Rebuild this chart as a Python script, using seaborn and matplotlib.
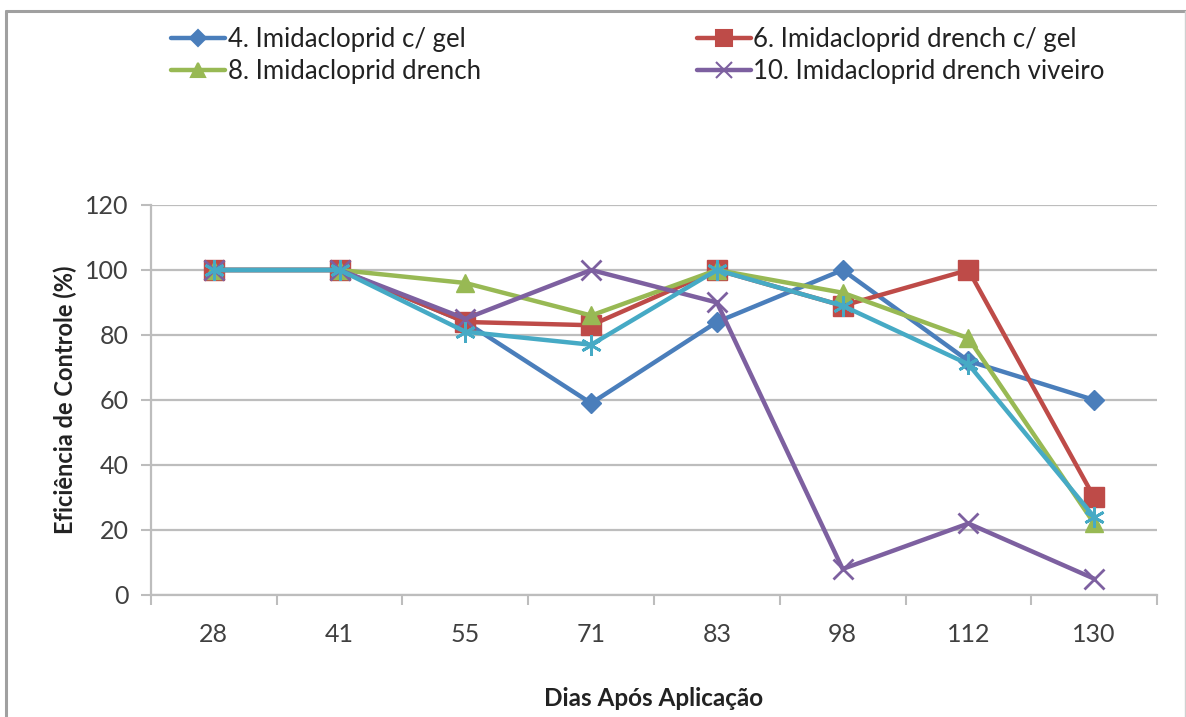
import matplotlib
matplotlib.use("Agg")
import matplotlib.pyplot as plt
from matplotlib.lines import Line2D
import seaborn as sns
import pandas as pd

# Days after application (categorical x axis)
dias = ["28", "41", "55", "71", "83", "98", "112", "130"]

# Control efficiency (%) per treatment
trat_4 = [100, 100, 84, 59, 84, 100, 72, 60]
trat_6 = [100, 100, 84, 83, 100, 89, 100, 30]
trat_8 = [100, 100, 96, 86, 100, 93, 79, 22]
trat_10 = [100, 100, 85, 100, 90, 8, 22, 5]
trat_extra = [100, 100, 81, 77, 100, 89, 71, 24]

nomes = ["4. Imidacloprid c/ gel", "6. Imidacloprid drench c/ gel",
         "8. Imidacloprid drench", "10. Imidacloprid drench viveiro", "_extra"]
series = [trat_4, trat_6, trat_8, trat_10, trat_extra]
cores = ["#4A7EBB", "#BE4B48", "#98B954", "#7D60A0", "#46AAC5"]
marcadores = ["D", "s", "^", "x", (6, 2, 0)]
tamanhos = [10, 14, 13, 14, 15]

sns.set_theme(style="white")
plt.rcParams["font.family"] = ["Lato", "DejaVu Sans"]

fig = plt.figure(figsize=(11.86, 7.17), dpi=100)
ax = fig.add_axes([0.1273, 0.1702, 0.8483, 0.5439])

pos = list(range(len(dias)))
for nome, vals, cor, mk, ms in zip(nomes, series, cores, marcadores, tamanhos):
    df = pd.DataFrame({"x": pos, "y": vals})
    sns.lineplot(data=df, x="x", y="y", ax=ax, color=cor, linewidth=3.2,
                 marker=mk, markersize=ms, markeredgecolor=cor,
                 markeredgewidth=2.0 if mk in ("x",) or isinstance(mk, tuple) else 1.0,
                 label=nome, legend=False)

ax.set_xlim(-0.5, len(dias) - 0.5)
ax.set_ylim(0, 120)
ax.set_yticks(range(0, 121, 20))
ax.set_xticks(pos)
ax.set_xticklabels(dias)
ax.yaxis.grid(True, color="#BDBDBD", linewidth=1.6)
ax.xaxis.grid(False)

# category-boundary tick marks on the x axis
ax.set_xticks([p - 0.5 for p in range(len(dias) + 1)], minor=True)
ax.tick_params(axis="x", which="major", length=0, pad=20, labelsize=18, colors="#404040")
ax.tick_params(axis="x", which="minor", length=7, width=1.5, color="#BDBDBD", bottom=True)
ax.tick_params(axis="y", which="major", length=7, width=1.5, color="#BDBDBD", left=True,
               labelsize=18, colors="#404040", pad=9)

for s in ["top", "right"]:
    ax.spines[s].set_visible(False)
for s in ["left", "bottom"]:
    ax.spines[s].set_color("#BDBDBD")
    ax.spines[s].set_linewidth(1.6)

ax.set_xlabel("Dias Após Aplicação", fontsize=17.5, fontweight="bold", color="#222222", labelpad=30)
ax.set_ylabel("Eficiência de Controle (%)", fontsize=17, fontweight="bold", color="#222222", labelpad=6)

# legend: four named treatments, two per row
ordem = [0, 2, 1, 3]
handles = [Line2D([0], [0], color=cores[i], linewidth=3.2, marker=marcadores[i],
                  markersize=tamanhos[i] * 0.8, markeredgecolor=cores[i], markeredgewidth=1.5)
           for i in ordem]
leg = fig.legend(handles, [nomes[i] for i in ordem], loc="upper left",
                 bbox_to_anchor=(0.125, 0.995), ncol=2, frameon=False, fontsize=18.5,
                 handlelength=2.1, handletextpad=0.1, columnspacing=8.4, labelspacing=0.3)
for t in leg.get_texts():
    t.set_color("#222222")

# outer frame
fig.add_artist(Line2D([0.0051, 0.0051], [0.0, 0.985], transform=fig.transFigure,
                      color="#A0A0A0", linewidth=2.2))
fig.add_artist(Line2D([0.0051, 1.0], [0.985, 0.985], transform=fig.transFigure,
                      color="#A0A0A0", linewidth=2.2))
fig.add_artist(Line2D([0.9992, 0.9992], [0.0, 0.985], transform=fig.transFigure,
                      color="#D0D0D0", linewidth=1.0))

fig.savefig("out.png", dpi=100)
